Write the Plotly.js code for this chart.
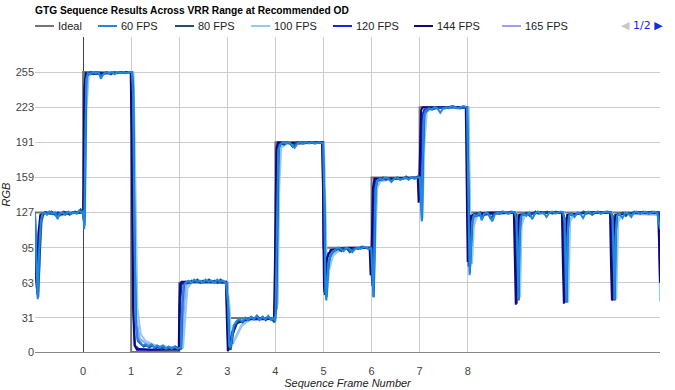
<!DOCTYPE html>
<html><head><meta charset="utf-8">
<script src="https://cdn.plot.ly/plotly-3.0.1.min.js"></script>
<style>html,body{margin:0;padding:0;background:#fff}#chart{width:675px;height:390px}</style>
</head><body><div id="chart"></div>
<script>
const seriesNames = ["Ideal","60 FPS","80 FPS","100 FPS","120 FPS","144 FPS","165 FPS"];
const seriesColors = ["#757575","#1e88e5","#1c4f80","#90caf9","#1a23e0","#0d0a78","#9f9ff5"];
const xTickVals = [0,1,2,3,4,5,6,7,8];
const yTickVals = [0,31,63,95,127,159,191,223,255];

const ideal = [[-1,127],[0,127],[0,255],[1,255],[1,0],[2,0],[2,63],[3,63],[3,31],[4,31],[4,191],[5,191],[5,95],[6,95],[6,159],[7,159],[7,223],[8,223],[8,127],[12,127]];

const fps60 = [[-1,127],[-0.975,88],[-0.945,48],[-0.915,92],[-0.88,119],[-0.845,126],[-0.8,127],[-0.75,125],[-0.7,128],[-0.64,126],[-0.58,127],[-0.53,121],[-0.49,126],[-0.43,127],[-0.37,125],[-0.31,128],[-0.25,126],[-0.19,127],[-0.13,126],[-0.08,129],[-0.04,127],[0,128],[0.025,112],[0.045,190],[0.065,248],[0.1,254],[0.15,253],[0.2,255],[0.26,254],[0.32,255],[0.37,249],[0.42,253],[0.48,255],[0.54,254],[0.6,255],[0.66,253],[0.72,255],[0.78,254],[0.84,255],[0.9,254],[0.96,255],[1.015,255],[1.04,235],[1.065,120],[1.095,28],[1.13,12],[1.18,9],[1.24,6],[1.3,7],[1.36,5],[1.42,7],[1.48,4],[1.54,6],[1.6,4],[1.66,6],[1.72,3],[1.78,5],[1.84,3],[1.9,5],[1.96,3],[2.035,4],[2.06,42],[2.09,60],[2.13,63],[2.19,65],[2.25,63],[2.31,66],[2.37,64],[2.43,65],[2.49,63],[2.55,66],[2.61,64],[2.67,65],[2.73,63],[2.79,66],[2.85,64],[2.91,65],[2.97,63],[3.015,45],[3.04,6],[3.065,4],[3.095,16],[3.13,24],[3.19,28],[3.25,30],[3.31,28],[3.37,31],[3.43,29],[3.49,32],[3.55,30],[3.61,33],[3.67,29],[3.73,32],[3.79,30],[3.85,33],[3.91,29],[3.97,31],[4.0,28],[4.035,130],[4.06,184],[4.1,189],[4.16,191],[4.22,190],[4.28,191],[4.34,189],[4.4,186],[4.46,190],[4.52,191],[4.58,190],[4.64,191],[4.7,190],[4.76,191],[4.84,190],[4.92,191],[4.995,190],[5.02,135],[5.04,55],[5.06,47],[5.085,70],[5.12,85],[5.18,91],[5.24,93],[5.3,95],[5.36,94],[5.42,92],[5.48,95],[5.54,94],[5.6,91],[5.66,94],[5.72,95],[5.78,94],[5.84,96],[5.9,95],[5.96,94],[5.995,95],[6.02,72],[6.04,50],[6.06,98],[6.08,148],[6.115,156],[6.17,158],[6.23,157],[6.29,159],[6.35,158],[6.41,155],[6.47,158],[6.53,159],[6.59,157],[6.65,158],[6.71,159],[6.77,157],[6.83,159],[6.89,158],[6.95,159],[7.005,159],[7.025,138],[7.045,119],[7.065,172],[7.09,215],[7.13,220],[7.19,222],[7.25,221],[7.31,223],[7.37,222],[7.43,218],[7.49,222],[7.55,223],[7.61,222],[7.67,224],[7.73,223],[7.79,222],[7.85,223],[7.91,224],[7.985,223],[8.015,150],[8.04,70],[8.065,92],[8.09,118],[8.13,125],[8.19,124],[8.25,127],[8.29,120],[8.34,126],[8.4,127],[8.46,124],[8.51,119],[8.56,125],[8.62,127],[8.68,126],[8.74,128],[8.8,127],[8.86,126],[8.92,128],[8.98,127],[9.015,120],[9.04,65],[9.055,48],[9.075,100],[9.105,123],[9.16,126],[9.22,124],[9.28,127],[9.34,121],[9.4,126],[9.46,128],[9.52,126],[9.58,127],[9.64,123],[9.7,127],[9.76,128],[9.82,126],[9.88,127],[9.94,128],[9.985,127],[10.015,118],[10.04,62],[10.055,46],[10.075,105],[10.105,124],[10.16,126],[10.22,123],[10.28,127],[10.34,126],[10.4,122],[10.46,127],[10.52,128],[10.58,126],[10.64,127],[10.7,128],[10.76,126],[10.82,127],[10.88,128],[10.94,127],[10.985,127],[11.015,120],[11.04,66],[11.055,48],[11.075,104],[11.105,124],[11.16,126],[11.22,122],[11.28,127],[11.34,126],[11.4,123],[11.46,127],[11.52,128],[11.58,126],[11.64,127],[11.7,128],[11.76,126],[11.82,127],[11.88,128],[11.94,127],[12,112]];

const fps80 = [[-1,120],[-0.97,75],[-0.935,50],[-0.9,90],[-0.87,118],[-0.83,125],[-0.78,127],[-0.72,126],[-0.66,128],[-0.6,126],[-0.56,124],[-0.52,127],[-0.46,126],[-0.4,128],[-0.34,127],[-0.28,125],[-0.22,127],[-0.16,128],[-0.1,127],[-0.05,130],[0,127],[0.03,115],[0.05,200],[0.07,250],[0.11,253],[0.16,255],[0.22,253],[0.28,255],[0.33,254],[0.38,251],[0.43,254],[0.5,255],[0.58,253],[0.65,255],[0.72,254],[0.8,255],[0.88,254],[0.95,255],[1.02,255],[1.045,240],[1.07,110],[1.1,25],[1.14,10],[1.2,7],[1.26,5],[1.32,6],[1.38,4],[1.44,6],[1.5,3],[1.56,5],[1.62,3],[1.68,5],[1.74,2],[1.8,4],[1.86,3],[1.92,5],[1.98,3],[2.04,3],[2.07,45],[2.1,61],[2.14,64],[2.2,63],[2.26,65],[2.32,64],[2.38,66],[2.44,63],[2.5,65],[2.56,64],[2.62,66],[2.68,64],[2.74,65],[2.8,63],[2.86,66],[2.92,64],[2.98,63],[3.02,40],[3.045,4],[3.07,2],[3.1,12],[3.14,22],[3.2,27],[3.26,29],[3.32,27],[3.38,31],[3.44,29],[3.5,32],[3.56,30],[3.62,33],[3.68,30],[3.74,32],[3.8,29],[3.86,32],[3.92,30],[3.98,27],[4.02,40],[4.045,140],[4.07,186],[4.12,190],[4.18,189],[4.24,191],[4.3,190],[4.36,187],[4.42,190],[4.5,191],[4.58,190],[4.66,191],[4.74,191],[4.82,190],[4.9,191],[4.99,191],[5.025,130],[5.045,55],[5.065,50],[5.09,72],[5.13,86],[5.19,91],[5.25,93],[5.31,94],[5.37,92],[5.43,95],[5.49,94],[5.55,91],[5.61,94],[5.67,95],[5.73,94],[5.8,96],[5.87,95],[5.94,94],[5.99,95],[6.02,75],[6.045,50],[6.065,95],[6.085,148],[6.12,156],[6.18,157],[6.24,159],[6.3,157],[6.36,158],[6.42,156],[6.48,158],[6.54,159],[6.6,157],[6.66,158],[6.72,160],[6.78,158],[6.84,159],[6.9,158],[6.96,160],[7.01,159],[7.03,140],[7.05,120],[7.07,175],[7.1,217],[7.15,220],[7.21,222],[7.27,221],[7.33,223],[7.39,222],[7.45,223],[7.52,222],[7.6,223],[7.68,224],[7.76,223],[7.84,222],[7.92,223],[7.99,223],[8.02,150],[8.045,72],[8.07,95],[8.1,120],[8.14,126],[8.2,125],[8.26,127],[8.3,122],[8.36,126],[8.42,127],[8.48,121],[8.54,126],[8.6,127],[8.66,126],[8.72,128],[8.78,127],[8.84,126],[8.9,128],[8.96,127],[9.02,125],[9.045,70],[9.06,47],[9.08,105],[9.11,124],[9.17,126],[9.23,127],[9.29,124],[9.35,126],[9.41,128],[9.47,126],[9.53,127],[9.59,126],[9.65,128],[9.71,127],[9.77,126],[9.83,128],[9.9,127],[9.97,127],[10.02,122],[10.045,65],[10.06,45],[10.08,108],[10.11,125],[10.17,126],[10.23,124],[10.29,127],[10.35,126],[10.41,128],[10.47,126],[10.53,127],[10.59,125],[10.65,127],[10.71,128],[10.77,126],[10.83,127],[10.9,128],[10.97,127],[11.02,124],[11.045,70],[11.06,47],[11.08,108],[11.11,125],[11.17,126],[11.23,127],[11.29,124],[11.35,127],[11.41,126],[11.47,128],[11.53,127],[11.59,126],[11.65,128],[11.71,127],[11.77,126],[11.83,128],[11.9,127],[11.97,127],[12,115]];

const fps100 = [[-1,90],[-0.96,60],[-0.93,50],[-0.89,100],[-0.85,122],[-0.8,127],[-0.5,124],[-0.2,127],[0,127],[0.04,118],[0.07,220],[0.12,253],[0.5,254],[0.9,255],[1.05,254],[1.09,150],[1.13,40],[1.2,16],[1.3,10],[1.5,6],[1.8,4],[2.08,4],[2.12,30],[2.17,58],[2.25,63],[2.6,64],[2.98,64],[3.04,45],[3.08,12],[3.14,10],[3.22,18],[3.3,25],[3.45,29],[3.7,31],[3.98,30],[4.05,45],[4.08,150],[4.12,186],[4.25,190],[4.6,191],[5.01,191],[5.05,120],[5.08,55],[5.12,75],[5.2,88],[5.35,93],[5.7,95],[6.0,95],[6.05,55],[6.08,100],[6.12,150],[6.2,157],[6.6,158],[7.02,159],[7.06,122],[7.1,190],[7.15,219],[7.3,222],[7.7,223],[8.02,223],[8.06,100],[8.09,80],[8.13,115],[8.2,124],[8.5,126],[9.0,127],[9.06,60],[9.09,50],[9.12,115],[9.2,126],[9.6,127],[10.0,127],[10.06,55],[10.09,45],[10.13,118],[10.2,126],[10.6,127],[11.0,127],[11.06,60],[11.09,48],[11.13,118],[11.2,126],[11.6,127],[11.98,127],[12,46]];

const fps120 = [[-1,127],[-0.98,70],[-0.95,52],[-0.91,105],[-0.87,124],[-0.8,127],[-0.4,126],[0,127],[0.015,120],[0.03,230],[0.06,253],[0.5,254],[1.0,255],[1.02,190],[1.05,35],[1.08,6],[1.15,3],[1.4,2],[1.8,3],[2.0,3],[2.02,45],[2.05,62],[2.3,64],[2.7,64],[2.98,63],[3.0,30],[3.02,2],[3.05,5],[3.1,18],[3.2,27],[3.5,30],[3.98,30],[4.0,60],[4.03,180],[4.06,190],[4.5,191],[4.98,191],[5.0,120],[5.02,55],[5.05,80],[5.1,90],[5.3,94],[5.98,95],[6.0,72],[6.02,60],[6.05,140],[6.08,157],[6.5,158],[6.98,159],[7.0,138],[7.02,160],[7.05,215],[7.1,221],[7.5,223],[7.98,223],[8.0,120],[8.02,78],[8.05,110],[8.1,124],[8.5,126],[8.98,127],[9.0,75],[9.02,44],[9.05,110],[9.1,125],[9.5,127],[9.98,127],[10.0,70],[10.02,45],[10.05,110],[10.1,125],[10.5,127],[10.98,127],[11.0,75],[11.02,47],[11.05,110],[11.1,125],[11.5,127],[11.98,127],[12,66]];

const fps144 = [[-1,127],[-0.985,80],[-0.96,58],[-0.93,108],[-0.89,125],[-0.8,127],[-0.5,125],[-0.2,127],[0,127],[0.01,150],[0.025,240],[0.05,254],[0.3,254],[0.6,254],[0.99,255],[1.01,200],[1.04,40],[1.07,6],[1.12,2],[1.3,2],[1.6,2],[1.99,2],[2.0,40],[2.02,62],[2.05,64],[2.4,64],[2.97,64],[2.99,30],[3.01,1],[3.04,3],[3.1,15],[3.2,26],[3.4,30],[3.7,31],[3.97,30],[3.99,80],[4.02,185],[4.05,191],[4.5,190],[4.97,191],[4.99,150],[5.01,60],[5.03,52],[5.07,85],[5.15,93],[5.5,95],[5.96,95],[5.98,70],[6.0,90],[6.03,150],[6.06,158],[6.5,158],[6.96,159],[6.98,136],[7.0,180],[7.03,220],[7.06,223],[7.5,223],[7.96,223],[7.98,150],[8.0,82],[8.03,95],[8.07,124],[8.15,126],[8.5,127],[8.96,127],[8.98,85],[9.0,43],[9.03,100],[9.07,125],[9.5,127],[9.96,127],[9.98,80],[10.0,44],[10.03,100],[10.07,125],[10.5,127],[10.96,127],[10.98,80],[11.0,47],[11.03,100],[11.07,125],[11.5,127],[11.96,127],[11.98,100],[12.0,63]];

const fps165 = [[-1,100],[-0.97,65],[-0.93,55],[-0.9,100],[-0.86,123],[-0.8,127],[-0.4,127],[0,127],[0.03,118],[0.06,230],[0.1,253],[0.5,255],[1.03,255],[1.07,130],[1.11,30],[1.18,12],[1.3,8],[1.6,5],[2.06,4],[2.1,40],[2.14,60],[2.2,63],[2.6,64],[3.0,64],[3.03,40],[3.06,8],[3.12,8],[3.2,15],[3.3,24],[3.45,29],[3.98,30],[4.04,60],[4.07,170],[4.11,189],[4.5,191],[5.0,191],[5.04,110],[5.07,52],[5.11,80],[5.18,90],[5.4,94],[6.0,95],[6.04,60],[6.07,120],[6.11,155],[6.5,158],[7.02,159],[7.05,125],[7.08,200],[7.12,220],[7.5,223],[8.01,223],[8.05,90],[8.08,85],[8.12,120],[8.2,125],[9.0,127],[9.05,55],[9.07,48],[9.1,118],[9.2,126],[10.0,127],[10.05,55],[10.07,46],[10.1,118],[10.2,126],[11.0,127],[11.05,58],[11.07,48],[11.1,118],[11.2,126],[12,125]];

const seriesData = [ideal, fps60, fps80, fps100, fps120, fps144, fps165];
const drawOrder = [0, 6, 3, 4, 5, 2, 1];

const FONT = '"Liberation Sans", Arial, sans-serif';
const traces = drawOrder.map(i => ({
  type: 'scatter', mode: 'lines', name: seriesNames[i], showlegend: false,
  x: seriesData[i].map(p => p[0]), y: seriesData[i].map(p => p[1]),
  line: {color: seriesColors[i], width: 2}, hoverinfo: 'skip'
}));

// Legend drawn as a row of key lines + labels above the plot (Google-Charts style)
const PLOT_L = 35, PLOT_W = 625, PLOT_T = 37, PLOT_H = 315;
const legendStartPx = [35, 98, 175, 251, 333, 414, 502];
const legendY = 1 + (PLOT_T - 26) / PLOT_H;
const toPaperX = px => (px - PLOT_L) / PLOT_W;
const legendShapes = seriesNames.map((n, i) => ({
  type: 'line', xref: 'paper', yref: 'paper', layer: 'above',
  x0: toPaperX(legendStartPx[i]), x1: toPaperX(legendStartPx[i] + 19), y0: legendY, y1: legendY,
  line: {color: seriesColors[i], width: 2}
}));
const legendLabels = seriesNames.map((n, i) => ({
  xref: 'paper', yref: 'paper', x: toPaperX(legendStartPx[i] + 21), xanchor: 'left', y: legendY, yanchor: 'middle',
  text: n, showarrow: false, font: {family: FONT, size: 11, color: '#222'}
}));
const pager = {xref: 'paper', yref: 'paper', x: toPaperX(665), xanchor: 'right', y: legendY, yanchor: 'middle', showarrow: false,
  text: '<span style="color:#c8c8c8">◀</span> <span style="color:#1a2ad8">1/2 ▶</span>',
  font: {family: '"DejaVu Sans", "Liberation Sans", sans-serif', size: 11}};

const layout = {
  width: 675, height: 390,
  margin: {l: 35, r: 15, t: 37, b: 38},
  paper_bgcolor: '#fff', plot_bgcolor: '#fff',
  font: {family: FONT, size: 11, color: '#444'},
  title: {text: '<b>GTG Sequence Results Across VRR Range at Recommended OD</b>', x: 35/675, xref: 'container', xanchor: 'left', y: 1 - 10/390, yanchor: 'middle', pad: {l: 0, r: 0, t: 0, b: 0}, font: {family: FONT, size: 10.2, color: '#000'}},
  showlegend: false,
  xaxis: {range: [-1, 12], tickvals: xTickVals, ticktext: xTickVals.map(String), showgrid: true, gridcolor: '#cccccc', gridwidth: 1,
    zeroline: true, zerolinecolor: '#444', zerolinewidth: 1, showline: false, ticks: '', ticklabelstandoff: 11,
    tickfont: {family: FONT, size: 11, color: '#444'},
    title: {text: '<i>Sequence Frame Number</i>', font: {family: FONT, size: 11, color: '#222'}, standoff: 2}, fixedrange: true},
  yaxis: {range: [0, 287], tickvals: yTickVals, ticktext: yTickVals.map(String), showgrid: true, gridcolor: '#cccccc', gridwidth: 1,
    zeroline: true, zerolinecolor: '#888', zerolinewidth: 1, showline: false, ticks: '',
    tickfont: {family: FONT, size: 11, color: '#444'},
    title: {text: '<i>RGB</i>', font: {family: FONT, size: 11, color: '#222'}, standoff: 2}, fixedrange: true},
  shapes: legendShapes,
  annotations: legendLabels.concat([pager])
};

Plotly.newPlot('chart', traces, layout, {displayModeBar: false, staticPlot: true});
</script></body></html>
